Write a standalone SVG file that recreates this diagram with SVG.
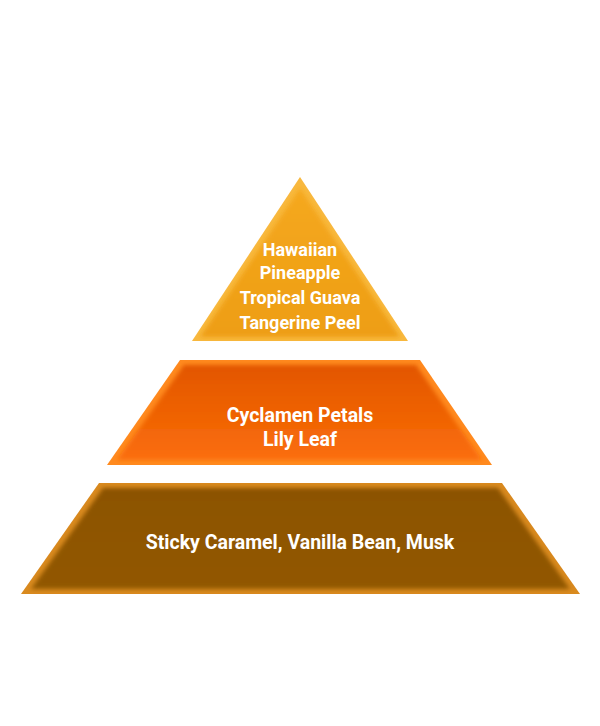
<svg xmlns="http://www.w3.org/2000/svg" width="600" height="726" viewBox="0 0 600 726">
<style>
.lbl{font-family:"Roboto","Liberation Sans",sans-serif;font-weight:bold;fill:#ffffff;text-anchor:middle;}
</style>
<defs>
<filter id="soft" x="-5%" y="-5%" width="110%" height="110%"><feGaussianBlur stdDeviation="2"/></filter>
<linearGradient id="gTop" x1="0" y1="0" x2="0" y2="1"><stop offset="0" stop-color="#F5A81E"/><stop offset="1" stop-color="#EE9E14"/></linearGradient>
<linearGradient id="gMid" x1="0" y1="0" x2="0" y2="1"><stop offset="0" stop-color="#E25600"/><stop offset="1" stop-color="#FB6E0A"/></linearGradient>
<linearGradient id="gBot" x1="0" y1="0" x2="0" y2="1"><stop offset="0" stop-color="#8C5300"/><stop offset="1" stop-color="#925800"/></linearGradient>
</defs>
<rect width="600" height="726" fill="#ffffff"/>
<g id="top">
<polygon points="300,177 408,341 192,341" fill="#F8B83E"/>
<polygon points="300,188 400,337 200,337" fill="url(#gTop)" filter="url(#soft)"/>
<text class="lbl" x="300" y="256" font-size="18">Hawaiian</text>
<text class="lbl" x="300" y="279" font-size="18">Pineapple</text>
<text class="lbl" x="300" y="304" font-size="18">Tropical Guava</text>
<text class="lbl" x="300" y="329" font-size="18">Tangerine Peel</text>
</g>
<g id="middle">
<polygon points="180,360 420,360 492,465 107,465" fill="#FF8A1E"/>
<polygon points="184,365 416,365 482,460 117,460" fill="url(#gMid)" filter="url(#soft)"/>
<text class="lbl" x="300" y="422" font-size="19.5">Cyclamen Petals</text>
<text class="lbl" x="300" y="446" font-size="19.5">Lily Leaf</text>
</g>
<g id="bottom">
<polygon points="99,483 502,483 580,594 21,594" fill="#D98A1E"/>
<polygon points="103,488 498,488 570,589 31,589" fill="url(#gBot)" filter="url(#soft)"/>
<text class="lbl" x="300" y="549" font-size="19.5">Sticky Caramel, Vanilla Bean, Musk</text>
</g>
<g id="connectors"/>
</svg>
